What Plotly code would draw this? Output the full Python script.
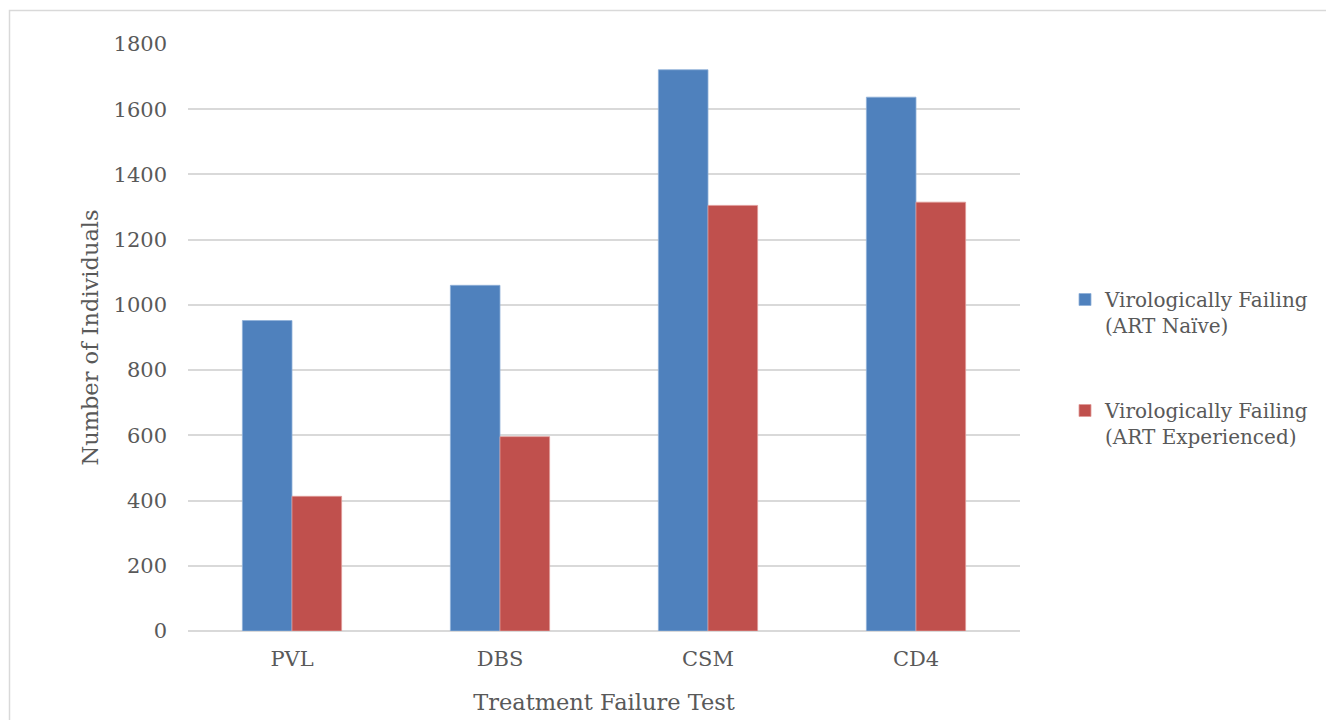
import plotly.graph_objects as go

# Treatment failure tests and counts of virologically failing individuals
tests = ["PVL", "DBS", "CSM", "CD4"]
art_naive = [952, 1060, 1721, 1637]
art_experienced = [413, 596, 1305, 1315]
series_names = ["Virologically Failing<br>(ART Naïve)", "Virologically Failing<br>(ART Experienced)"]
y_ticks = [0, 200, 400, 600, 800, 1000, 1200, 1400, 1600, 1800]

FONT = "DejaVu Serif"
TEXT = "#595959"
GRID = "#d9d9d9"

fig = go.Figure()
fig.add_trace(go.Bar(
    x=tests, y=art_naive, name=series_names[0], legendgroup="a",
    marker=dict(color="#4F81BD", line=dict(color="#8fb0d8", width=0.8)),
))
fig.add_trace(go.Bar(
    x=tests, y=art_experienced, name=series_names[1], legendgroup="b",
    marker=dict(color="#C0504D", line=dict(color="#e09a98", width=0.8)),
))

W, H = 1326, 720
L, R, T, B = 188, 306, 44, 89
pw, ph = W - L - R, H - T - B

def px_x(v):
    return (v - L) / pw

def px_y(v):
    return (H - B - v) / ph

fig.update_layout(
    width=W, height=H,
    margin=dict(l=L, r=R, t=T, b=B, autoexpand=False),
    paper_bgcolor="white", plot_bgcolor="white",
    font=dict(family=FONT, color=TEXT, size=21),
    barmode="group", bargap=0.523, bargroupgap=0,
    xaxis=dict(
        title=dict(text="Treatment Failure Test", font=dict(size=22.5), standoff=24),
        showline=False, ticks="", tickfont=dict(size=21), ticklabelstandoff=13,
        automargin=False,
    ),
    yaxis=dict(
        title=dict(text="Number of Individuals", font=dict(size=22.5), standoff=8),
        range=[0, 1800], tickvals=y_ticks, showgrid=True, gridcolor=GRID, gridwidth=1.5,
        zeroline=True, zerolinecolor=GRID, zerolinewidth=1.5,
        ticks="", ticklabelstandoff=20, tickfont=dict(size=21),
        automargin=False,
    ),
    legend=dict(
        x=px_x(1065), y=px_y(280), xanchor="left", yanchor="top",
        traceorder="grouped", tracegroupgap=56, valign="top",
        font=dict(size=20), itemwidth=30,
    ),
    shapes=[dict(
        type="rect", xref="paper", yref="paper",
        x0=px_x(9.5), x1=px_x(1332), y0=px_y(10.5), y1=px_y(740),
        line=dict(color=GRID, width=1.5), fillcolor="rgba(0,0,0,0)", layer="below",
    )],
)

fig.write_html("out.html")
